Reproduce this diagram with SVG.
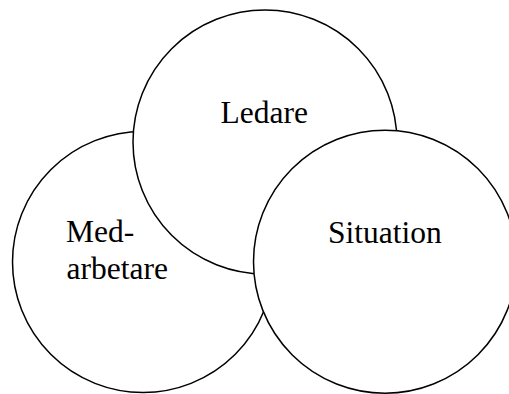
<svg xmlns="http://www.w3.org/2000/svg" width="509" height="394" viewBox="0 0 509 394">
<style>
.c{fill:#fff;stroke:#000;stroke-width:1.5}
.t{font-family:"Liberation Serif","Times New Roman",serif;font-size:31.5px;fill:#000}
</style>
<rect width="509" height="394" fill="#fff"/>
<g id="medarbetare">
<circle class="c" cx="143" cy="262" r="130.5"/>
<text class="t" x="66" y="241.7">Med-</text>
<text class="t" x="66.5" y="279.3">arbetare</text>
</g>
<g id="ledare">
<circle class="c" cx="265" cy="142" r="132"/>
<text class="t" x="220.5" y="123">Ledare</text>
</g>
<g id="situation">
<circle class="c" cx="385" cy="261.7" r="131.5"/>
<text class="t" x="328" y="242.7">Situation</text>
</g>
<g id="connectors"></g>
</svg>
